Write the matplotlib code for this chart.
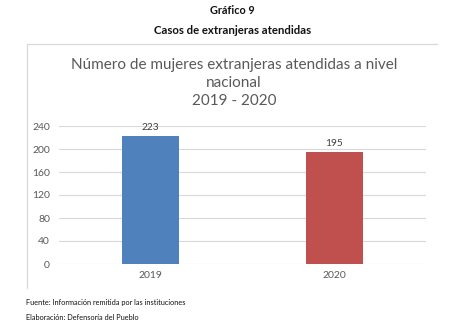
import matplotlib
matplotlib.use("Agg")
import matplotlib.pyplot as plt
from matplotlib.lines import Line2D

plt.rcParams['font.family'] = ['Lato', 'DejaVu Sans']

categories = ["2019", "2020"]
values = [223, 195]
colors = ["#4F81BD", "#C0504D"]
yticks = [0, 40, 80, 120, 160, 200, 240]

W, H = 468, 328
fig = plt.figure(figsize=(W / 100, H / 100), dpi=100)
fig.patch.set_facecolor("white")

def fx(px):
    return px / W

def fy(py):
    return 1 - py / H

# Outer headings
fig.text(fx(232), fy(11), "Gráfico 9", ha="center", va="center",
         fontsize=7.8, fontweight="bold", color="#111111")
fig.text(fx(233), fy(31), "Casos de extranjeras atendidas", ha="center", va="center",
         fontsize=8.2, fontweight="bold", color="#111111")

# Chart box borders (top and left)
fig.add_artist(Line2D([fx(27), fx(437)], [fy(44), fy(44)], color="#D9D9D9", lw=0.9))
fig.add_artist(Line2D([fx(27), fx(27)], [fy(44), fy(288)], color="#D9D9D9", lw=0.9))

# Chart title
fig.text(fx(234), fy(65), "Número de mujeres extranjeras atendidas a nivel",
         ha="center", va="center", fontsize=11, color="#595959")
fig.text(fx(234), fy(83), "nacional", ha="center", va="center",
         fontsize=11, color="#595959")
fig.text(fx(234), fy(101), "2019 - 2020", ha="center", va="center",
         fontsize=11, color="#595959")

# Axes
ax_left, ax_right = 59, 426
ax_top, ax_bottom = 126, 264
ax = fig.add_axes([fx(ax_left), fy(ax_bottom), fx(ax_right - ax_left), (ax_bottom - ax_top) / H])
x = list(range(len(categories)))
ax.bar(x, values, width=0.31, color=colors, zorder=3)
ax.set_xlim(-0.5, 1.5)
ax.set_ylim(0, 240)
ax.set_yticks(yticks)
ax.set_yticklabels([str(t) for t in yticks])
ax.set_xticks(x)
ax.set_xticklabels(categories)
ax.grid(axis="y", color="#D9D9D9", lw=0.8, zorder=0)
for s in ax.spines.values():
    s.set_visible(False)
ax.tick_params(axis="both", length=0, colors="#595959", labelsize=7.5)
ax.tick_params(axis="x", pad=5)
ax.tick_params(axis="y", pad=6.5)
for xi, v in zip(x, values):
    ax.text(xi, v + 6, str(v), ha="center", va="bottom", fontsize=7.3, color="#404040")

# Footnotes
fig.text(fx(26), fy(303), "Fuente: Información remitida por las instituciones",
         ha="left", va="center", fontsize=5.3, color="#111111")
fig.text(fx(26), fy(317), "Elaboración: Defensoría del Pueblo",
         ha="left", va="center", fontsize=5.3, color="#111111")

fig.savefig("out.png", dpi=100, facecolor="white")
